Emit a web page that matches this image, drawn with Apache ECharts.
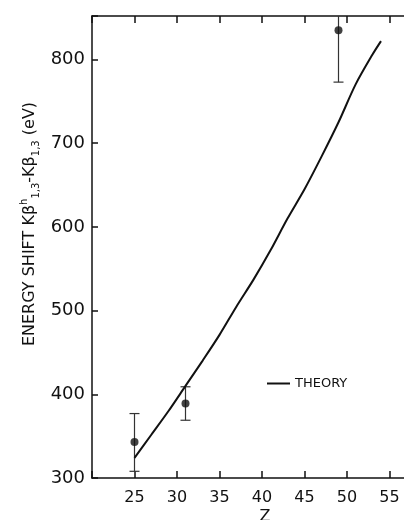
<!DOCTYPE html>
<html>
<head>
<meta charset="utf-8">
<script src="https://cdn.jsdelivr.net/npm/echarts@6/dist/echarts.min.js"></script>
<style>
  html, body { margin: 0; padding: 0; background: #fff; }
  #chart { width: 404px; height: 520px; }
</style>
</head>
<body>
<div id="chart"></div>
<script>
// Measured Kβ hypersatellite energy shifts (eV) with error bars
const measuredZ = [25, 31, 49];
const measuredShift = [343, 389, 835];
const errorLow = [308, 369, 773];
const errorHigh = [377, 409, 897];

// Theoretical curve
const theoryZ = [25, 27, 29, 31, 33, 35, 37, 39, 41, 43, 45, 47, 49, 51, 53, 54];
const theoryShift = [324, 352, 380, 410, 440, 471, 505, 537, 572, 610, 645, 684, 725, 770, 806, 822];

// Tick labels
const xTickLabels = [25, 30, 35, 40, 45, 50, 55];
const yTickLabels = [300, 400, 500, 600, 700, 800];

const FONT = 'DejaVu Sans';
const INK = '#111';

const chart = echarts.init(document.getElementById('chart'), null, { renderer: 'canvas' });

const axisCommon = {
  type: 'value',
  min: 20,
  max: 60,
  interval: 5,
  splitLine: { show: false },
  axisLine: { lineStyle: { color: INK, width: 1.5 } },
  axisTick: { inside: true, length: 7, lineStyle: { color: INK, width: 1.5 } }
};

chart.setOption({
  animation: false,
  backgroundColor: '#fff',
  // the plot runs on past the right edge of the page (Z up to 60)
  grid: { left: 92, right: -28, top: 16, bottom: 42, outerBoundsMode: 'none', containLabel: false },
  legend: {
    left: 267,
    top: 377,
    padding: 0,
    itemWidth: 23,
    itemHeight: 2,
    itemGap: 0,
    icon: 'rect',
    data: ['THEORY'],
    textStyle: { fontFamily: FONT, fontSize: 13, color: INK }
  },
  xAxis: [
    Object.assign({}, axisCommon, {
      position: 'bottom',
      axisLabel: {
        margin: 12,
        fontFamily: FONT,
        fontSize: 16,
        color: INK,
        formatter: v => (xTickLabels.indexOf(v) >= 0 ? String(v) : '')
      }
    }),
    Object.assign({}, axisCommon, {
      position: 'top',
      axisLabel: { show: false }
    })
  ],
  yAxis: {
    type: 'value',
    min: 300,
    max: 852,
    interval: 100,
    splitLine: { show: false },
    axisLine: { lineStyle: { color: INK, width: 1.5 } },
    axisTick: { inside: true, length: 6, lineStyle: { color: INK, width: 1.5 } },
    axisLabel: {
      margin: 7,
      fontFamily: FONT,
      fontSize: 18,
      color: INK,
      formatter: v => (yTickLabels.indexOf(v) >= 0 ? String(v) : '')
    }
  },
  graphic: [
    {
      type: 'text',
      x: 30,
      y: 224,
      rotation: Math.PI / 2,
      style: {
        text: 'ENERGY SHIFT K\u03b2{sup|h}{sub|1,3}-K\u03b2{sub|1,3} (eV)',
        fontFamily: FONT,
        fontSize: 16,
        fill: INK,
        align: 'center',
        verticalAlign: 'middle',
        rich: {
          sup: { fontFamily: FONT, fontSize: 10, fill: INK, verticalAlign: 'top', lineHeight: 22 },
          sub: { fontFamily: FONT, fontSize: 10, fill: INK, verticalAlign: 'bottom', lineHeight: 22 }
        }
      }
    },
    {
      type: 'text',
      x: 265,
      y: 509,
      style: {
        text: 'Z',
        fontFamily: FONT,
        fontSize: 16,
        fill: INK,
        align: 'center',
        verticalAlign: 'top'
      }
    }
  ],
  series: [
    {
      name: 'THEORY',
      type: 'line',
      smooth: 0.3,
      showSymbol: false,
      symbol: 'none',
      lineStyle: { color: INK, width: 2 },
      itemStyle: { color: INK },
      data: theoryZ.map((z, i) => [z, theoryShift[i]])
    },
    {
      name: 'errors',
      type: 'custom',
      clip: true,
      data: measuredZ.map((z, i) => [z, errorLow[i], errorHigh[i]]),
      renderItem: function (params, api) {
        const x = api.value(0);
        const lo = api.coord([x, api.value(1)]);
        const hi = api.coord([x, api.value(2)]);
        const w = 5;
        const st = { stroke: '#333', lineWidth: 1.2 };
        return {
          type: 'group',
          children: [
            { type: 'line', shape: { x1: lo[0], y1: lo[1], x2: hi[0], y2: hi[1] }, style: st },
            { type: 'line', shape: { x1: lo[0] - w, y1: lo[1], x2: lo[0] + w, y2: lo[1] }, style: st },
            { type: 'line', shape: { x1: hi[0] - w, y1: hi[1], x2: hi[0] + w, y2: hi[1] }, style: st }
          ]
        };
      }
    },
    {
      name: 'measured',
      type: 'scatter',
      symbol: 'circle',
      symbolSize: 8,
      itemStyle: { color: INK },
      data: measuredZ.map((z, i) => [z, measuredShift[i]])
    }
  ]
});
</script>
</body>
</html>
